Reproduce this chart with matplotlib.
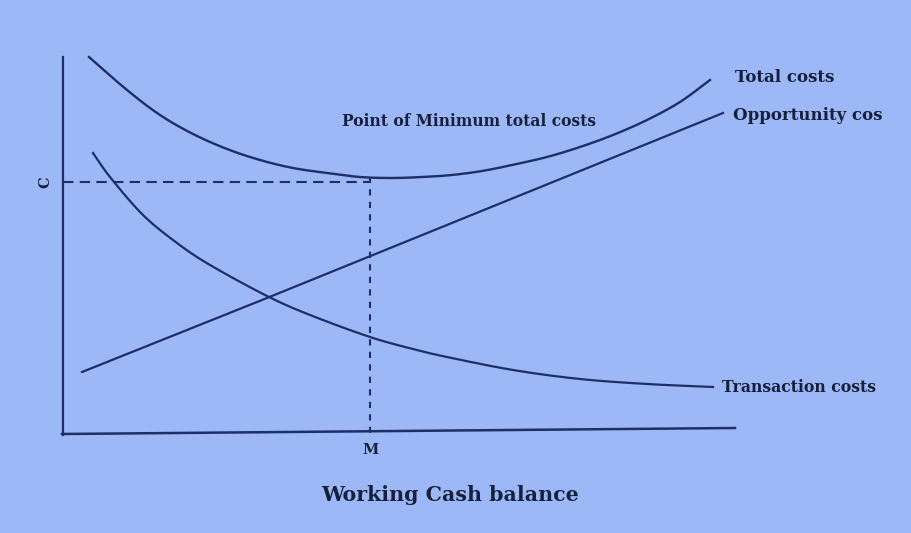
import matplotlib.pyplot as plt
import numpy as np

# curves: x = cash balance from the y axis, y = cost above the x axis
total_x = [27, 65, 98, 131, 165, 198, 231, 265, 298, 330, 360, 390, 420, 450, 485, 518, 551, 585, 618, 648]
total_y = [376, 343, 318, 299, 284, 273, 265, 260, 256, 255, 256, 258, 262, 268, 276, 286, 298, 313, 331, 353]

opp_x = [20, 205, 661]
opp_y = [61, 135, 320]

trans_x = [31, 48, 81, 115, 148, 205, 248, 308, 351, 385, 451, 518, 585, 651]
trans_y = [280, 256, 218, 190, 168, 137, 118, 96, 84, 76, 63, 54, 49, 46]

C_level = 251
M_level = 308

bg = '#9db8f6'
ink = '#1d2f66'
txt = '#16203d'


def smooth(xs, ys, n=20):
    # catmull-rom through the read points, only to draw the curve without kinks
    p = np.column_stack([xs, ys]).astype(float)
    p = np.vstack([2 * p[0] - p[1], p, 2 * p[-1] - p[-2]])
    out = []
    t = np.linspace(0, 1, n, endpoint=False)[:, None]
    for i in range(1, len(p) - 2):
        p0, p1, p2, p3 = p[i - 1], p[i], p[i + 1], p[i + 2]
        seg = 0.5 * (2 * p1 + (-p0 + p2) * t + (2 * p0 - 5 * p1 + 4 * p2 - p3) * t ** 2
                     + (-p0 + 3 * p1 - 3 * p2 + p3) * t ** 3)
        out.append(seg)
    out.append(p[-2][None, :])
    out = np.vstack(out)
    return out[:, 0], out[:, 1]


fig = plt.figure(figsize=(9.12, 5.33), dpi=100, facecolor=bg)
ax = fig.add_axes([0, 0, 1, 1])
ax.set_facecolor(bg)
ax.set_xlim(-62, 850)
ax.set_ylim(-100, 433)
ax.axis('off')

# axes of the diagram
ax.plot([1, 1], [-2, 376], color=ink, lw=1.6)
ax.plot([0, 673], [-1, 5], color=ink, lw=1.8)

ax.plot(*smooth(total_x, total_y), color=ink, lw=1.7)
ax.plot(opp_x, opp_y, color=ink, lw=1.6)
ax.plot(*smooth(trans_x, trans_y), color=ink, lw=1.6)

# guide lines to the minimum point
ax.plot([1, M_level], [C_level, C_level], color=ink, lw=1.5, ls=(0, (5, 3)))
ax.plot([M_level, M_level], [0, C_level + 4], color=ink, lw=1.5, ls=(0, (3, 3)))

font = dict(family=['DejaVu Serif'], color=txt, fontweight='bold')
ax.text(-17, C_level, 'C', rotation=90, ha='center', va='center', fontsize=10.5, **font)
ax.text(M_level, -17, 'M', ha='center', va='center', fontsize=10.5, **font)
ax.text(388, -62, 'Working Cash balance', ha='center', va='center', fontsize=14.8, **font)
ax.text(673, 355, 'Total costs', ha='left', va='center', fontsize=12, **font)
ax.text(671, 318, 'Opportunity cos', ha='left', va='center', fontsize=12, **font)
ax.text(280, 312, 'Point of Minimum total costs', ha='left', va='center', fontsize=11.2, **font)
ax.text(660, 45, 'Transaction costs', ha='left', va='center', fontsize=11.3, **font)

fig.savefig('out.png', dpi=100, facecolor=bg)
